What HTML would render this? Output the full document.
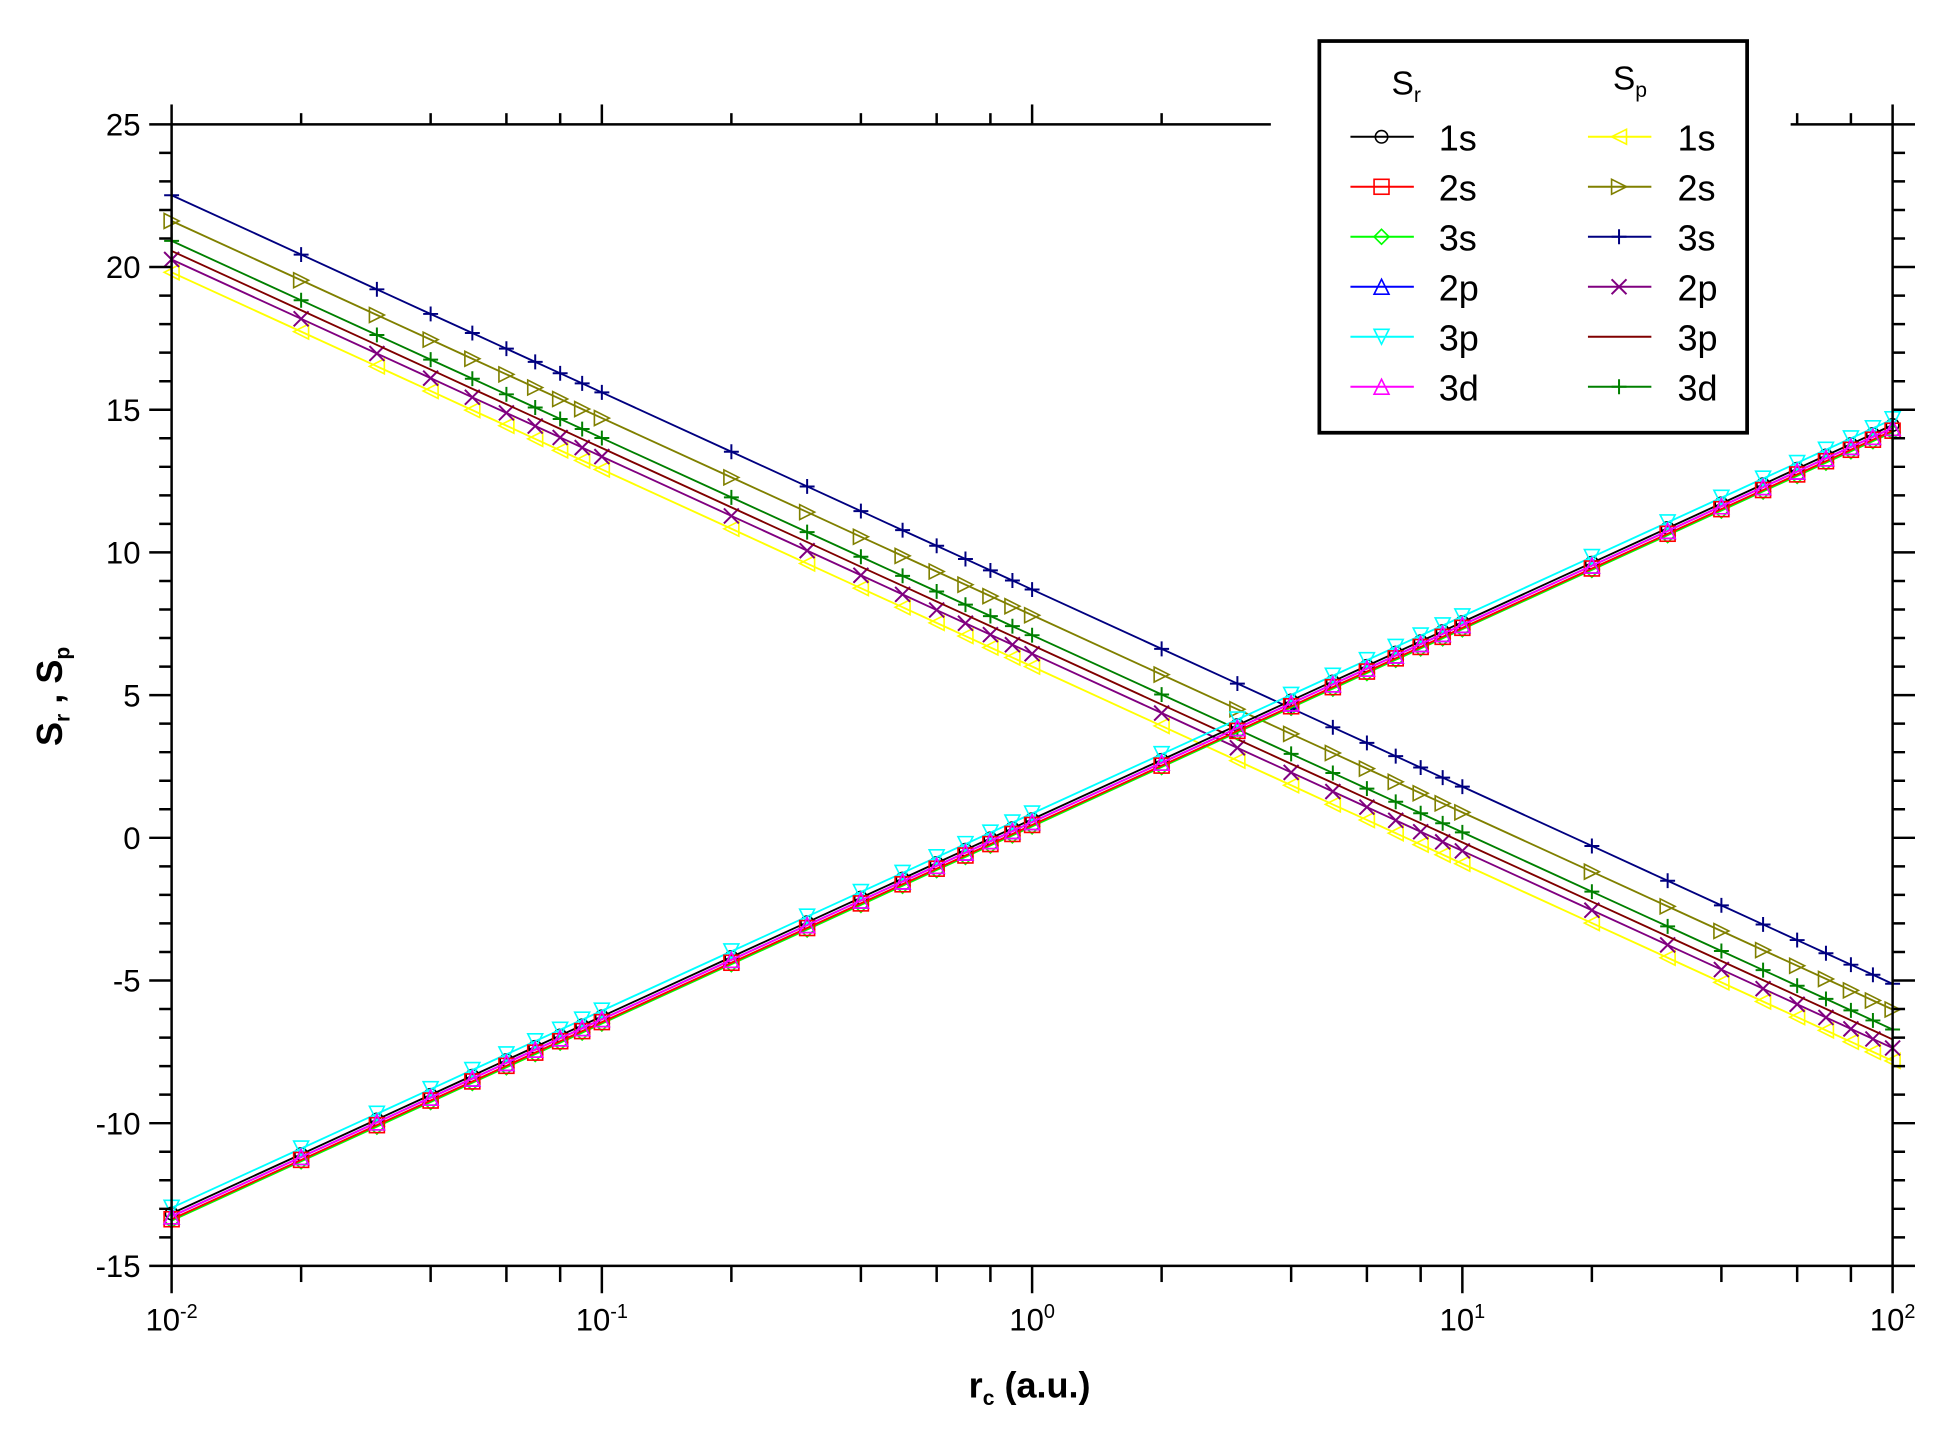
<!DOCTYPE html>
<html><head><meta charset="utf-8"><style>html,body{margin:0;padding:0;background:#fff}svg{display:block}</style></head>
<body>
<svg id="s" width="1950" height="1430" viewBox="0 0 1950 1430" xmlns="http://www.w3.org/2000/svg" font-family="'Liberation Sans','DejaVu Sans',sans-serif">
<g id="g" transform="scale(1.2435)"></g>
</svg>
<script>
const g=document.getElementById('g');
let h='';
const L=138,R=1522,T=100,B=1018;
const X=r=>L+(Math.log10(r)+2)*346;
const Y=v=>T+(25-v)*(B-T)/40;
const rs=[];
for(let e=-2;e<2;e++)for(let k=1;k<10;k++)rs.push(k*Math.pow(10,e));
rs.push(100);
const ser=[
 ['#000',1,0.65,'o'],['#f00',1,0.45,'sq'],['#0f0',1,0.40,'di'],['#00f',1,0.55,'tu'],['#0ff',1,0.85,'td'],['#f0f',1,0.55,'tu'],
 ['#ff0',-1,6.0,'tl'],['#808000',-1,7.8,'tr'],['#000080',-1,8.7,'pl'],['#800080',-1,6.45,'x'],['#800000',-1,6.75,''],['#008000',-1,7.1,'pl']
];
function mk(t,x,y,c){
 const s=6;
 switch(t){
 case 'o':return `<circle cx="${x}" cy="${y}" r="${s-1}" fill="none" stroke="${c}" stroke-width="1.3"/>`;
 case 'sq':return `<rect x="${x-s}" y="${y-s}" width="${2*s}" height="${2*s}" fill="none" stroke="${c}" stroke-width="1.3"/>`;
 case 'di':return `<path d="M${x} ${y-s}L${x+s} ${y}L${x} ${y+s}L${x-s} ${y}Z" fill="none" stroke="${c}" stroke-width="1.3"/>`;
 case 'tu':return `<path d="M${x} ${y-s}L${x+s} ${y+s}L${x-s} ${y+s}Z" fill="none" stroke="${c}" stroke-width="1.3"/>`;
 case 'td':return `<path d="M${x} ${y+s}L${x+s} ${y-s}L${x-s} ${y-s}Z" fill="none" stroke="${c}" stroke-width="1.3"/>`;
 case 'tl':return `<path d="M${x-s} ${y}L${x+s} ${y-s}L${x+s} ${y+s}Z" fill="none" stroke="${c}" stroke-width="1.3"/>`;
 case 'tr':return `<path d="M${x+s} ${y}L${x-s} ${y-s}L${x-s} ${y+s}Z" fill="none" stroke="${c}" stroke-width="1.3"/>`;
 case 'pl':return `<path d="M${x-s} ${y}H${x+s}M${x} ${y-s}V${y+s}" stroke="${c}" stroke-width="1.6"/>`;
 case 'x':return `<path d="M${x-s} ${y-s}L${x+s} ${y+s}M${x-s} ${y+s}L${x+s} ${y-s}" stroke="${c}" stroke-width="1.6"/>`;
 }
 return '';
}
const order=[6,7,8,9,10,11,0,2,4,1,3,5];
for(const i of order){
 const [c,sg,off,m]=ser[i];
 const pts=rs.map(r=>[X(r),Y(sg*3*Math.log(r)+off)]);
 h+=`<polyline fill="none" stroke="${c}" stroke-width="1.5" points="${pts.map(p=>p[0].toFixed(1)+','+p[1].toFixed(1)).join(' ')}"/>`;
 for(const p of pts)h+=mk(m,p[0],p[1],c);
}
h+=`<g stroke="#000" stroke-width="2" fill="none">`;
h+=`<path d="M${L} ${T}V${B}H${R}V${T}H1440M1022 ${T}H${L}"/>`;
for(let v=-15;v<=25;v++){
 const y=Y(v),len=(v%5==0)?18:10;
 h+=`<path d="M${L} ${y}H${L-len}M${R} ${y}H${R+len}"/>`;
}
for(let e=-2;e<=2;e++){
 const x=X(Math.pow(10,e));
 h+=`<path d="M${x} ${B}V${B+22}"/>`;
 if(x<1022||x>1440)h+=`<path d="M${x} ${T}V${T-16}"/>`;
 if(e<2)for(const k of [2,4,6,8]){const xm=X(k*Math.pow(10,e));h+=`<path d="M${xm} ${B}V${B+13}"/>`;if(xm<1022||xm>1440)h+=`<path d="M${xm} ${T}V${T-9}"/>`;}
}
h+=`</g>`;
h+=`<g font-size="25" fill="#000">`;
for(let v=-15;v<=25;v+=5)h+=`<text x="113" y="${Y(v)+9}" text-anchor="end">${v}</text>`;
for(let e=-2;e<=2;e++)h+=`<text x="${X(Math.pow(10,e))}" y="1070" text-anchor="middle">10<tspan font-size="16" dy="-10">${e}</tspan></text>`;
h+=`</g>`;
h+=`<text x="828" y="1124" text-anchor="middle" font-size="29" font-weight="bold">r<tspan font-size="17" dy="6">c</tspan><tspan dy="-6"> (a.u.)</tspan></text>`;
h+=`<text transform="translate(50,560) rotate(-90)" text-anchor="middle" font-size="29" font-weight="bold">S<tspan font-size="17" dy="6">r</tspan><tspan dy="-6"> , S</tspan><tspan font-size="17" dy="6">p</tspan></text>`;
h+=`<rect x="1061" y="33" width="344" height="315" fill="#fff" stroke="#000" stroke-width="3"/>`;
h+=`<text x="1119" y="76" font-size="27">S<tspan font-size="17" dy="6">r</tspan></text>`;
h+=`<text x="1297" y="72" font-size="27">S<tspan font-size="17" dy="6">p</tspan></text>`;
const labs=['1s','2s','3s','2p','3p','3d'];
for(let j=0;j<6;j++){
 const y=110+j*40.2;
 for(let col=0;col<2;col++){
  const s=ser[col*6+j],x0=col?1277:1086;
  h+=`<path d="M${x0} ${y}H${x0+51}" stroke="${s[0]}" stroke-width="1.6"/>`+mk(s[3],x0+25,y,s[0]);
  h+=`<text x="${col?1349:1157}" y="${y+11}" font-size="29">${labs[j]}</text>`;
 }
}
g.innerHTML=h;
</script>
</body></html>
